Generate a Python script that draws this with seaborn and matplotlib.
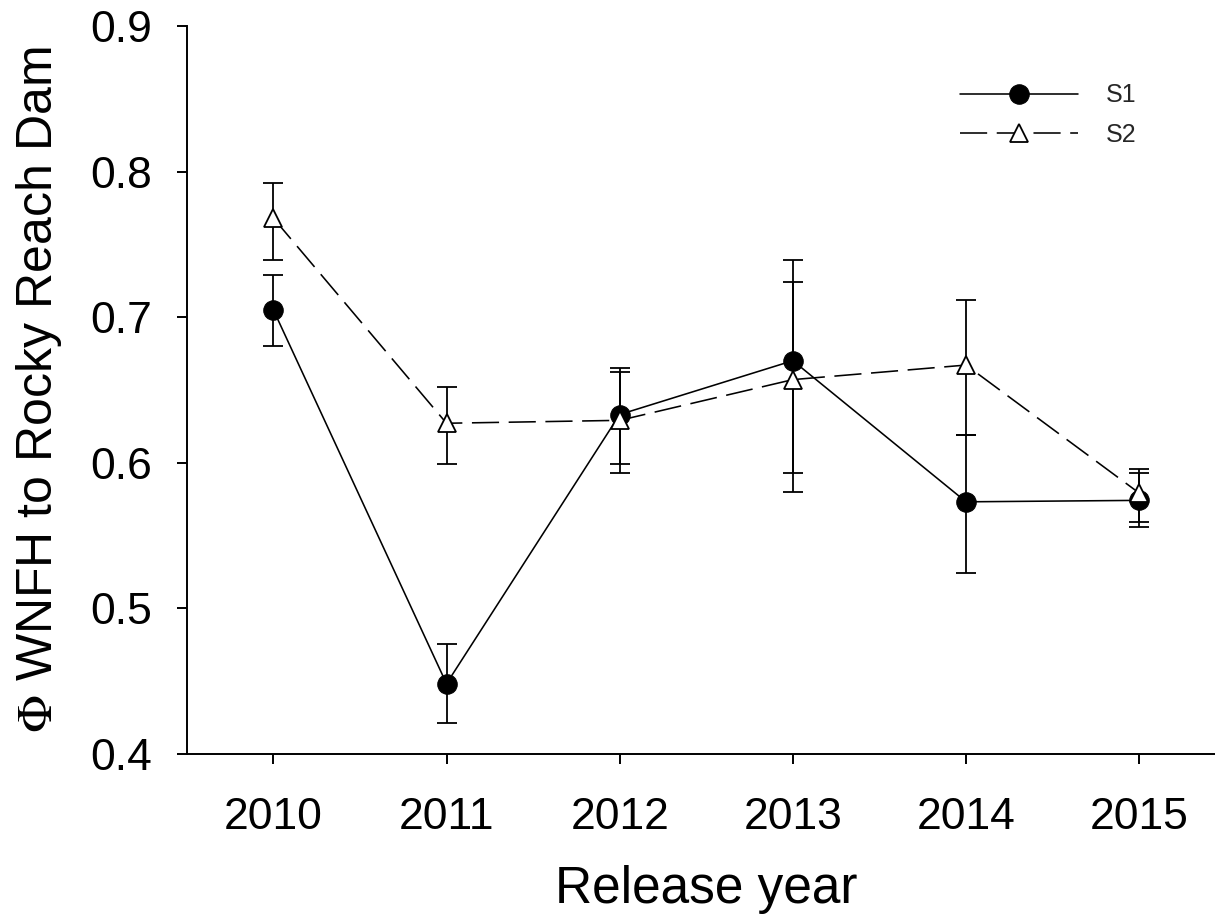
import numpy as np
import pandas as pd
import matplotlib
matplotlib.use("Agg")
import matplotlib.pyplot as plt
import seaborn as sns

# Release years and survival estimates with their confidence bounds
years = [2010, 2011, 2012, 2013, 2014, 2015]

s1_est = [0.705, 0.448, 0.633, 0.670, 0.573, 0.574]
s1_low = [0.680, 0.421, 0.599, 0.593, 0.524, 0.5555]
s1_high = [0.729, 0.475, 0.665, 0.739, 0.619, 0.5926]

s2_est = [0.768, 0.627, 0.629, 0.657, 0.667, 0.579]
s2_low = [0.739, 0.599, 0.593, 0.580, 0.619, 0.5593]
s2_high = [0.792, 0.652, 0.662, 0.724, 0.712, 0.5953]

y_ticks = [0.4, 0.5, 0.6, 0.7, 0.8, 0.9]

sns.set_theme(style="ticks")
plt.rcParams["font.family"] = ["Liberation Sans", "DejaVu Sans"]
plt.rcParams["mathtext.fontset"] = "stix"

df = pd.DataFrame({
    "year": years * 2,
    "phi": s1_est + s2_est,
    "low": s1_low + s2_low,
    "high": s1_high + s2_high,
    "series": ["S1"] * len(years) + ["S2"] * len(years),
})

fig = plt.figure(figsize=(12.15, 9.24), dpi=100)
ax = fig.add_axes([0.1537, 0.1845, 0.8552, 0.7873])

line_w = 1.15
err_kw = dict(fmt="none", ecolor="black", elinewidth=1.3, capsize=7.5,
              capthick=1.3, zorder=1.5)

# S1: solid line, filled circles
d1 = df[df.series == "S1"]
ax.errorbar(d1.year, d1.phi, yerr=[d1.phi - d1.low, d1.high - d1.phi], **err_kw)
sns.lineplot(data=d1, x="year", y="phi", ax=ax, color="black", lw=line_w,
             marker="o", markersize=14, markerfacecolor="black",
             markeredgecolor="black", markeredgewidth=0.8, label="S1",
             zorder=3)

# S2: dashed line, open triangles
d2 = df[df.series == "S2"]
ax.errorbar(d2.year, d2.phi, yerr=[d2.phi - d2.low, d2.high - d2.phi], **err_kw)
sns.lineplot(data=d2, x="year", y="phi", ax=ax, color="black", lw=line_w,
             linestyle=(0, (17, 6)), marker="^", markersize=13,
             markerfacecolor="white", markeredgecolor="black",
             markeredgewidth=1.3, label="S2", zorder=4)

ax.set_xlim(2009.5, 2015.5)
ax.set_ylim(0.4, 0.9)
ax.set_xticks(years)
ax.set_xticklabels([str(y) for y in years])
ax.set_yticks(y_ticks)
ax.set_yticklabels([f"{t:.1f}" for t in y_ticks])

for side in ("top", "right"):
    ax.spines[side].set_visible(False)
for side in ("left", "bottom"):
    ax.spines[side].set_linewidth(1.4)
    ax.spines[side].set_color("black")

ax.tick_params(axis="both", direction="out", length=7, width=1.4,
               color="black", labelcolor="black", labelsize=32)
ax.tick_params(axis="x", pad=24)
ax.tick_params(axis="y", pad=18)

ax.set_xlabel("Release year", fontsize=37, labelpad=20, color="black")
ax.set_ylabel(r"$\Phi$ WNFH to Rocky Reach Dam", fontsize=36, labelpad=19,
              color="black")

leg = ax.legend(loc="center left", bbox_to_anchor=(960 / 1215, 1 - 115 / 924),
                bbox_transform=fig.transFigure, frameon=False, fontsize=18,
                handlelength=4.7, handletextpad=1.15, labelspacing=0.6,
                borderpad=0, borderaxespad=0)

ax.set_facecolor("white")
fig.patch.set_facecolor("white")
fig.savefig("out.png", dpi=100, facecolor="white")
